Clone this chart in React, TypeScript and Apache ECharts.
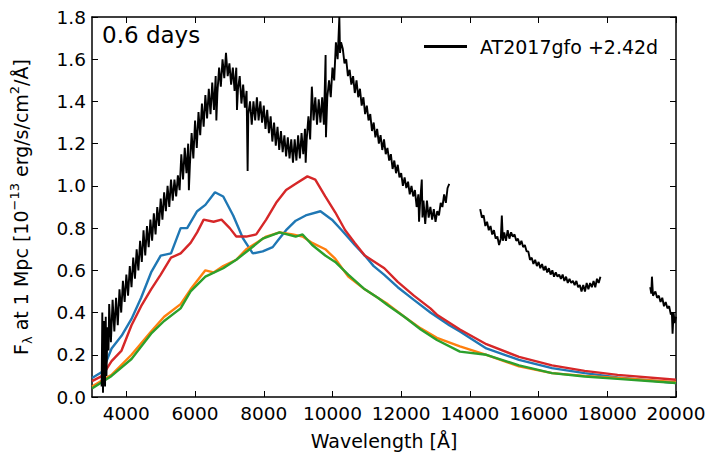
import React, { useEffect, useRef } from 'react';
import * as echarts from 'echarts';

const xTicks = [4000, 6000, 8000, 10000, 12000, 14000, 16000, 18000, 20000];
const yTicks = [0, 0.2, 0.4, 0.6, 0.8, 1.0, 1.2, 1.4, 1.6, 1.8];

const blueModel: [number, number][] = [
  [3000, 0.09], [3300, 0.12], [3570, 0.23], [3860, 0.29], [4150, 0.37], [4430, 0.47], [4720, 0.59],
  [5000, 0.67], [5300, 0.68], [5580, 0.8], [5770, 0.8], [6060, 0.88], [6300, 0.91], [6580, 0.97],
  [6820, 0.95], [7110, 0.86], [7400, 0.75], [7680, 0.68], [7970, 0.69], [8260, 0.71], [8450, 0.75],
  [8650, 0.79], [8930, 0.835], [9220, 0.86], [9650, 0.88], [9985, 0.84], [10270, 0.79], [10650, 0.72],
  [10940, 0.67], [11200, 0.62], [11500, 0.58], [11900, 0.52], [12370, 0.46], [12850, 0.4], [13400, 0.34],
  [13710, 0.31], [14480, 0.23], [15430, 0.176], [16390, 0.137], [17340, 0.113], [18300, 0.093], [20000, 0.066],
];

const orangeModel: [number, number][] = [
  [3000, 0.05], [3570, 0.105], [4150, 0.2], [4720, 0.31], [5100, 0.38], [5580, 0.44], [5870, 0.51],
  [6300, 0.6], [6540, 0.59], [6820, 0.62], [7200, 0.65], [7490, 0.7], [7780, 0.73], [8070, 0.76],
  [8460, 0.78], [8840, 0.77], [9130, 0.76], [9410, 0.73], [9790, 0.7], [10080, 0.655], [10460, 0.57],
  [10940, 0.51], [11320, 0.47], [11610, 0.44], [12090, 0.38], [12570, 0.325], [13040, 0.28], [13710, 0.24],
  [14480, 0.2], [15430, 0.145], [16390, 0.113], [17340, 0.1], [18300, 0.09], [20000, 0.07],
];

const redModel: [number, number][] = [
  [3000, 0.075], [3300, 0.1], [3570, 0.17], [3860, 0.22], [4150, 0.34], [4430, 0.43], [4720, 0.51],
  [5000, 0.58], [5300, 0.66], [5580, 0.68], [5870, 0.73], [6060, 0.78], [6250, 0.84], [6540, 0.83],
  [6770, 0.84], [7010, 0.8], [7200, 0.76], [7490, 0.76], [7780, 0.77], [8070, 0.84], [8360, 0.92],
  [8650, 0.98], [8930, 1.01], [9270, 1.045], [9500, 1.03], [9790, 0.95], [10080, 0.875], [10370, 0.79],
  [10650, 0.73], [10940, 0.67], [11230, 0.64], [11510, 0.61], [11900, 0.545], [12370, 0.48], [12850, 0.42],
  [13040, 0.39], [13710, 0.32], [14480, 0.25], [15430, 0.19], [16390, 0.15], [17340, 0.124], [18300, 0.105],
  [20000, 0.082],
];

const greenModel: [number, number][] = [
  [3000, 0.04], [3570, 0.1], [4150, 0.18], [4720, 0.3], [5100, 0.36], [5580, 0.42], [5870, 0.5],
  [6300, 0.57], [6820, 0.61], [7200, 0.65], [7590, 0.7], [7970, 0.75], [8460, 0.78], [8930, 0.76],
  [9130, 0.77], [9410, 0.72], [9790, 0.67], [10080, 0.64], [10460, 0.58], [10940, 0.51], [11320, 0.47],
  [11610, 0.435], [12090, 0.38], [12570, 0.32], [13040, 0.27], [13710, 0.215], [14480, 0.2], [15430, 0.15],
  [16390, 0.113], [17340, 0.097], [18300, 0.086], [20000, 0.066],
];

const at2017gfoPart1: [number, number][] = [
  [3280, 0.05], [3300, 0.4], [3320, 0.02], [3350, 0.36], [3380, 0.05], [3400, 0.38], [3420, 0.1], [3450, 0.33],
  [3480, 0.22], [3500, 0.44], [3550, 0.26], [3600, 0.46], [3650, 0.31], [3700, 0.47], [3750, 0.34],
  [3800, 0.51], [3850, 0.4], [3900, 0.55], [3950, 0.45], [4000, 0.58], [4050, 0.48], [4100, 0.62],
  [4150, 0.52], [4200, 0.66], [4250, 0.56], [4300, 0.7], [4350, 0.6], [4400, 0.74], [4450, 0.64],
  [4500, 0.79], [4550, 0.67], [4600, 0.81], [4650, 0.71], [4700, 0.84], [4750, 0.74], [4800, 0.87],
  [4850, 0.77], [4900, 0.9], [4950, 0.81], [5000, 0.94], [5050, 0.84], [5100, 0.97], [5150, 0.88],
  [5200, 1.0], [5250, 0.9], [5300, 1.03], [5350, 0.93], [5400, 1.03], [5450, 0.95], [5500, 1.05],
  [5550, 0.98], [5600, 1.15], [5650, 1.03], [5700, 1.18], [5750, 1.06], [5800, 1.2], [5820, 0.98],
  [5850, 1.1], [5900, 1.25], [5950, 1.13], [6000, 1.31], [6050, 1.18], [6100, 1.35], [6150, 1.24],
  [6200, 1.39], [6250, 1.28], [6300, 1.43], [6350, 1.32], [6400, 1.46], [6450, 1.34], [6500, 1.49],
  [6550, 1.36], [6600, 1.52], [6620, 1.31], [6650, 1.44], [6700, 1.56], [6750, 1.47], [6800, 1.6],
  [6850, 1.51], [6900, 1.63], [6950, 1.52], [7000, 1.58], [7050, 1.48], [7100, 1.56], [7150, 1.45],
  [7200, 1.56], [7220, 1.36], [7250, 1.46], [7300, 1.52], [7350, 1.39], [7400, 1.48], [7450, 1.37],
  [7500, 1.45], [7530, 1.07], [7550, 1.34], [7600, 1.4], [7650, 1.29], [7700, 1.4], [7750, 1.31],
  [7800, 1.42], [7850, 1.31], [7900, 1.4], [7950, 1.3], [8000, 1.38], [8050, 1.27], [8100, 1.36],
  [8150, 1.25], [8200, 1.33], [8250, 1.21], [8300, 1.3], [8350, 1.19], [8400, 1.28], [8450, 1.17],
  [8500, 1.26], [8550, 1.16], [8600, 1.24], [8650, 1.14], [8700, 1.23], [8750, 1.13], [8800, 1.22],
  [8850, 1.11], [8900, 1.22], [8950, 1.12], [9000, 1.24], [9050, 1.13], [9100, 1.25], [9150, 1.15],
  [9200, 1.27], [9220, 1.11], [9250, 1.22], [9300, 1.33], [9350, 1.22], [9400, 1.47], [9450, 1.31],
  [9500, 1.42], [9550, 1.29], [9600, 1.41], [9650, 1.3], [9700, 1.42], [9750, 1.29], [9800, 1.62],
  [9810, 1.23], [9850, 1.42], [9900, 1.5], [9950, 1.42], [10000, 1.56], [10050, 1.5], [10100, 1.68],
  [10150, 1.6], [10200, 1.8], [10220, 1.63], [10250, 1.68], [10300, 1.65], [10350, 1.58], [10400, 1.6],
  [10450, 1.52], [10500, 1.55], [10550, 1.48], [10600, 1.52], [10650, 1.44], [10700, 1.5], [10750, 1.42],
  [10800, 1.46], [10850, 1.38], [10900, 1.42], [10950, 1.34], [11000, 1.38], [11050, 1.31], [11100, 1.34],
  [11150, 1.26], [11200, 1.3], [11250, 1.23], [11300, 1.27], [11350, 1.2], [11400, 1.24], [11450, 1.17],
  [11500, 1.22], [11550, 1.15], [11600, 1.18], [11650, 1.12], [11700, 1.15], [11750, 1.08], [11800, 1.12],
  [11850, 1.06], [11900, 1.1], [11950, 1.04], [12000, 1.06], [12050, 1.0], [12100, 1.04], [12150, 0.99],
  [12200, 1.02], [12250, 0.96], [12300, 1.0], [12350, 0.95], [12400, 0.98], [12450, 0.9], [12500, 0.96],
  [12520, 0.83], [12550, 0.92], [12600, 1.03], [12620, 0.85], [12650, 0.93], [12700, 0.82], [12750, 0.93],
  [12800, 0.85], [12850, 0.9], [12900, 0.84], [12950, 0.89], [13000, 0.83], [13050, 0.88], [13100, 0.86],
  [13150, 0.92], [13200, 0.9], [13250, 0.96], [13300, 0.92], [13350, 0.99], [13400, 1.01],
];

const at2017gfoPart2: [number, number][] = [
  [14300, 0.89], [14350, 0.85], [14400, 0.86], [14450, 0.81], [14500, 0.83], [14550, 0.79], [14600, 0.81],
  [14650, 0.77], [14700, 0.79], [14750, 0.75], [14800, 0.76], [14850, 0.72], [14900, 0.75], [14930, 0.86],
  [14960, 0.74], [15000, 0.78], [15050, 0.74], [15100, 0.79], [15150, 0.75], [15200, 0.78], [15250, 0.76],
  [15300, 0.77], [15350, 0.74], [15400, 0.75], [15450, 0.72], [15500, 0.74], [15550, 0.71], [15600, 0.72],
  [15650, 0.69], [15700, 0.69], [15750, 0.65], [15800, 0.66], [15850, 0.63], [15900, 0.65], [15950, 0.62],
  [16000, 0.64], [16050, 0.61], [16100, 0.63], [16150, 0.6], [16200, 0.62], [16250, 0.59], [16300, 0.61],
  [16350, 0.58], [16400, 0.6], [16450, 0.57], [16500, 0.59], [16550, 0.57], [16600, 0.58], [16650, 0.56],
  [16700, 0.58], [16750, 0.55], [16800, 0.57], [16850, 0.54], [16900, 0.56], [16950, 0.54], [17000, 0.55],
  [17050, 0.53], [17100, 0.55], [17150, 0.52], [17200, 0.53], [17250, 0.5], [17300, 0.53], [17350, 0.5],
  [17400, 0.54], [17450, 0.51], [17500, 0.54], [17550, 0.52], [17600, 0.55], [17650, 0.52], [17700, 0.56],
  [17750, 0.54], [17800, 0.57],
];

const at2017gfoPart3: [number, number][] = [
  [19250, 0.52], [19280, 0.49], [19300, 0.57], [19330, 0.48], [19400, 0.5], [19450, 0.47], [19500, 0.48],
  [19550, 0.45], [19600, 0.47], [19650, 0.43], [19700, 0.45], [19750, 0.42], [19800, 0.43], [19850, 0.39],
  [19880, 0.4], [19900, 0.3], [19930, 0.4], [19960, 0.35], [20000, 0.38],
];

const legendName = 'AT2017gfo +2.42d';
const FONT = 'DejaVu Sans';

export default function App() {
  const ref = useRef<HTMLDivElement>(null);
  useEffect(() => {
    document.body.style.margin = '0';
    const chart = echarts.init(ref.current!, null, { renderer: 'svg' });
    const axisLineStyle = { color: '#000', width: 1.5 };
    const tickStyle = { color: '#000', width: 1 };
    const modelLine = (data: [number, number][], color: string) => ({
      type: 'line',
      data,
      showSymbol: false,
      symbol: 'none',
      lineStyle: { color, width: 2.4 },
      itemStyle: { color },
      xAxisIndex: 0,
      yAxisIndex: 0,
      silent: true,
    });
    const obsLine = (data: [number, number][]) => ({
      type: 'line',
      name: legendName,
      data,
      showSymbol: false,
      symbol: 'none',
      lineStyle: { color: '#000', width: 1.9 },
      itemStyle: { color: '#000' },
      xAxisIndex: 0,
      yAxisIndex: 0,
      silent: true,
    });
    chart.setOption({
      animation: false,
      backgroundColor: '#fff',
      textStyle: { fontFamily: FONT },
      title: {
        text: '0.6 days',
        left: 97,
        top: 18,
        textStyle: { fontSize: 23, fontWeight: 'normal', color: '#000', fontFamily: FONT },
      },
      legend: {
        data: [legendName],
        left: 419,
        top: 32,
        icon: 'rect',
        itemWidth: 43,
        itemHeight: 3,
        textStyle: { fontSize: 19, color: '#000', fontFamily: FONT, padding: [0, 0, 0, 8] },
      },
      grid: { left: 83, top: 17, width: 593, height: 382 },
      xAxis: [
        {
          type: 'value',
          min: 3000,
          max: 20000,
          position: 'bottom',
          axisLine: { show: true, onZero: false, lineStyle: axisLineStyle },
          axisTick: { show: true, inside: true, length: 6, customValues: xTicks, lineStyle: tickStyle },
          axisLabel: {
            customValues: xTicks,
            color: '#000',
            fontSize: 18.5,
            fontFamily: FONT,
            margin: 7,
            formatter: (v: number) => String(v),
          },
          splitLine: { show: false },
          name: 'Wavelength [Å]',
          nameLocation: 'middle',
          nameGap: 34,
          nameTextStyle: { fontSize: 19, color: '#000', fontFamily: FONT },
        },
        {
          type: 'value',
          min: 3000,
          max: 20000,
          position: 'top',
          axisLine: { show: true, onZero: false, lineStyle: axisLineStyle },
          axisTick: { show: true, inside: true, length: 6, customValues: xTicks, lineStyle: tickStyle },
          axisLabel: { show: false },
          splitLine: { show: false },
        },
      ],
      yAxis: [
        {
          type: 'value',
          min: 0,
          max: 1.8,
          interval: 0.2,
          position: 'left',
          axisLine: { show: true, onZero: false, lineStyle: axisLineStyle },
          axisTick: { show: true, inside: true, length: 6, customValues: yTicks, lineStyle: tickStyle },
          axisLabel: {
            customValues: yTicks,
            color: '#000',
            fontSize: 18.5,
            fontFamily: FONT,
            margin: 6,
            formatter: (v: number) => v.toFixed(1),
          },
          splitLine: { show: false },
          name: '{a|F}{s|λ}{a| at 1 Mpc [10}{p|−13}{a| erg/s/cm}{p|2}{a|/Å]}',
          nameLocation: 'middle',
          nameGap: 58,
          nameTextStyle: {
            rich: {
              a: { fontSize: 19, fontFamily: FONT, color: '#000', lineHeight: 26 },
              s: { fontSize: 13, fontFamily: FONT, color: '#000', lineHeight: 13, verticalAlign: 'bottom' },
              p: { fontSize: 13, fontFamily: FONT, color: '#000', lineHeight: 13, verticalAlign: 'top' },
            },
          },
        },
        {
          type: 'value',
          min: 0,
          max: 1.8,
          interval: 0.2,
          position: 'right',
          axisLine: { show: true, onZero: false, lineStyle: axisLineStyle },
          axisTick: { show: true, inside: true, length: 6, customValues: yTicks, lineStyle: tickStyle },
          axisLabel: { show: false },
          splitLine: { show: false },
        },
      ],
      series: [
        modelLine(blueModel, '#1f77b4'),
        modelLine(orangeModel, '#ff7f0e'),
        modelLine(redModel, '#d62728'),
        modelLine(greenModel, '#2ca02c'),
        obsLine(at2017gfoPart1),
        obsLine(at2017gfoPart2),
        obsLine(at2017gfoPart3),
      ],
    });
    return () => chart.dispose();
  }, []);
  return <div ref={ref} style={{ position: 'absolute', left: 0, top: 0, width: 710, height: 455 }} />;
}
